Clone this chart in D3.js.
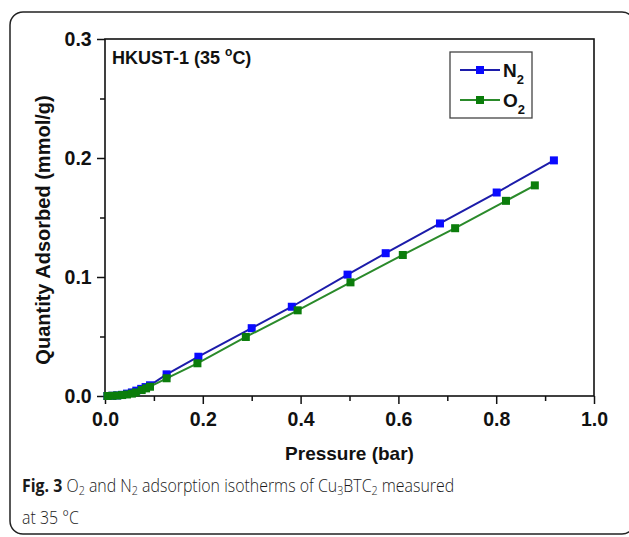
<!DOCTYPE html>
<html><head><meta charset="utf-8">
<script src="https://cdn.jsdelivr.net/npm/d3@7"></script>
<style>body{margin:0;background:#fff}svg{display:block}</style>
</head><body>
<svg id="c" width="629" height="537"></svg>
<script>
// Data (Pressure in bar, Quantity in mmol/g)
const n2Pressure = [0.005,0.015,0.025,0.035,0.045,0.055,0.064,0.074,0.083,0.092,0.126,0.191,0.300,0.382,0.496,0.574,0.685,0.801,0.918];
const n2Quantity = [0.0000,0.0002,0.0005,0.0010,0.0020,0.0030,0.0045,0.0060,0.0075,0.0090,0.0182,0.0330,0.0570,0.0750,0.1020,0.1200,0.1450,0.1710,0.1980];
const o2Pressure = [0.005,0.015,0.025,0.035,0.045,0.055,0.063,0.075,0.084,0.092,0.126,0.189,0.288,0.394,0.502,0.609,0.716,0.820,0.879];
const o2Quantity = [0.0000,0.0002,0.0004,0.0008,0.0013,0.0020,0.0030,0.0050,0.0064,0.0078,0.0149,0.0275,0.0496,0.0720,0.0955,0.1185,0.1410,0.1640,0.1770];
const xTicks = [0.0,0.2,0.4,0.6,0.8,1.0];
const yTicks = [0.0,0.1,0.2,0.3];

const svg = d3.select("#c");
const L=105, R=594, T=39, B=396;
const x = d3.scaleLinear().domain([0,1]).range([L,R]);
const y = d3.scaleLinear().domain([0,0.3]).range([B,T]);
const font = "'Liberation Sans', Arial, sans-serif";

// outer rounded frame
svg.append("rect").attr("x",10).attr("y",12).attr("width",625).attr("height",522)
  .attr("rx",13).attr("fill","none").attr("stroke","#222").attr("stroke-width",1.5);

// axes
const xAxis = d3.axisBottom(x).tickValues(xTicks).tickFormat(d3.format(".1f")).tickSize(8).tickSizeOuter(0);
const xMinor = d3.axisBottom(x).tickValues([0.1,0.3,0.5,0.7,0.9]).tickFormat("").tickSize(5).tickSizeOuter(0);
const yAxis = d3.axisLeft(y).tickValues(yTicks).tickFormat(d3.format(".1f")).tickSize(8).tickSizeOuter(0);
const yMinor = d3.axisLeft(y).tickValues([0.05,0.15,0.25]).tickFormat("").tickSize(5).tickSizeOuter(0);

function styleAxis(g){
  g.selectAll("path").remove();
  g.selectAll("line").attr("stroke","#111").attr("stroke-width",1.5);
  g.selectAll("text").attr("font-family",font).attr("font-weight","bold").attr("font-size",19.5).attr("fill","#111");
}
svg.append("g").attr("transform",`translate(0,${B})`).call(xAxis).call(styleAxis)
  .selectAll("text").attr("dy","0.95em");
svg.append("g").attr("transform",`translate(0,${B})`).call(xMinor).call(styleAxis);
svg.append("g").attr("transform",`translate(${L},0)`).call(yAxis).call(styleAxis)
  .selectAll("text").attr("dx","-0.12em");
svg.append("g").attr("transform",`translate(${L},0)`).call(yMinor).call(styleAxis);

// plot box
svg.append("rect").attr("x",L).attr("y",T).attr("width",R-L).attr("height",B-T)
  .attr("fill","none").attr("stroke","#111").attr("stroke-width",1.6);

// series
const series = [
  {px:n2Pressure, qy:n2Quantity, line:"#1c1caa", fill:"#0a0aff"},
  {px:o2Pressure, qy:o2Quantity, line:"#2a8a2a", fill:"#0b7d0b"}
];
const line = d3.line().x(d=>x(d[0])).y(d=>y(d[1]));
const S=8;
series.forEach(s=>{
  const pts = s.px.map((p,i)=>[p,s.qy[i]]);
  svg.append("path").datum(pts).attr("d",line).attr("fill","none").attr("stroke",s.line).attr("stroke-width",2);
  svg.append("g").selectAll("rect").data(pts).join("rect")
    .attr("x",d=>x(d[0])-S/2).attr("y",d=>y(d[1])-S/2).attr("width",S).attr("height",S)
    .attr("fill",s.fill);
});

// axis titles
svg.append("text").attr("x",(L+R)/2).attr("y",460).attr("text-anchor","middle")
  .attr("font-family",font).attr("font-weight","bold").attr("font-size",19).attr("fill","#111")
  .text("Pressure (bar)");
svg.append("text").attr("transform","translate(50,230) rotate(-90)").attr("text-anchor","middle")
  .attr("font-family",font).attr("font-weight","bold").attr("font-size",20).attr("fill","#111")
  .text("Quantity Adsorbed (mmol/g)");

// annotation
const ann = svg.append("text").attr("x",112).attr("y",64)
  .attr("font-family",font).attr("font-weight","bold").attr("font-size",18).attr("fill","#111");
ann.append("tspan").text("HKUST-1 (35 ");
ann.append("tspan").attr("font-size",12).attr("dy",-8).text("o");
ann.append("tspan").attr("dy",8).text("C)");

// legend
svg.append("rect").attr("x",450).attr("y",52).attr("width",82).attr("height",66)
  .attr("fill","#fff").attr("stroke","#444").attr("stroke-width",1.3);
const legend = [{name:"N",sub:"2",y:70,s:series[0]},{name:"O",sub:"2",y:100,s:series[1]}];
legend.forEach(l=>{
  svg.append("line").attr("x1",460).attr("x2",500).attr("y1",l.y).attr("y2",l.y)
    .attr("stroke",l.s.line).attr("stroke-width",1.8);
  svg.append("rect").attr("x",480-S/2).attr("y",l.y-S/2).attr("width",S).attr("height",S).attr("fill",l.s.fill);
  const t = svg.append("text").attr("x",503).attr("y",l.y+7)
    .attr("font-family",font).attr("font-weight","bold").attr("font-size",19).attr("fill","#111");
  t.append("tspan").text(l.name);
  t.append("tspan").attr("font-size",13).attr("dy",7).text(l.sub);
});

// caption (horizontally condensed to match the narrower original face)
const capFont = "'Open Sans', 'Noto Sans', sans-serif";
const cap = svg.append("g").attr("transform","translate(22,0) scale(0.86,1)");
const c1 = cap.append("text").attr("x",0).attr("y",492).attr("font-family",capFont).attr("font-size",18.5).attr("font-weight",300).attr("fill","#1a1a1a");
c1.append("tspan").attr("font-weight","bold").text("Fig. 3");
c1.append("tspan").text(" O");
c1.append("tspan").attr("font-size",12.5).attr("dy",3).text("2");
c1.append("tspan").attr("dy",-3).text(" and N");
c1.append("tspan").attr("font-size",12.5).attr("dy",3).text("2");
c1.append("tspan").attr("dy",-3).text(" adsorption isotherms of Cu");
c1.append("tspan").attr("font-size",12.5).attr("dy",3).text("3");
c1.append("tspan").attr("dy",-3).text("BTC");
c1.append("tspan").attr("font-size",12.5).attr("dy",3).text("2");
c1.append("tspan").attr("dy",-3).text(" measured");
cap.append("text").attr("x",0).attr("y",524).attr("font-family",capFont).attr("font-size",18.5).attr("font-weight",300).attr("fill","#1a1a1a")
  .text("at 35 °C");
</script>
</body></html>
